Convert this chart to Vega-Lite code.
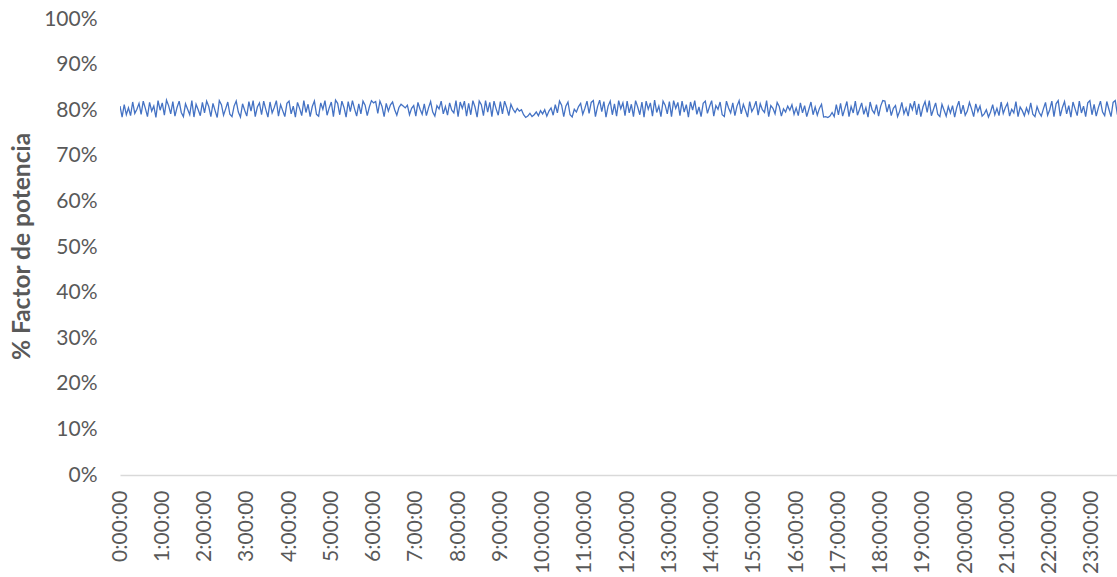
{
  "$schema": "https://vega.github.io/schema/vega-lite/v6.json",
  "autosize": {"type": "none"},
  "padding": {"left": 120, "top": 19, "right": 0, "bottom": 102},
  "width": 997,
  "height": 456,
  "background": "white",
  "config": {"view": {"stroke": null}, "font": "Lato"},
  "data": {"values": [
{"t":"2020-01-01T00:00","v":80.9},{"t":"2020-01-01T00:03","v":78.5},{"t":"2020-01-01T00:06","v":81.2},{"t":"2020-01-01T00:09","v":79.0},{"t":"2020-01-01T00:12","v":80.5},{"t":"2020-01-01T00:15","v":78.8},{"t":"2020-01-01T00:18","v":81.8},{"t":"2020-01-01T00:21","v":79.3},{"t":"2020-01-01T00:24","v":80.2},{"t":"2020-01-01T00:27","v":81.5},{"t":"2020-01-01T00:30","v":79.1},{"t":"2020-01-01T00:33","v":82.0},{"t":"2020-01-01T00:36","v":80.4},{"t":"2020-01-01T00:39","v":78.6},{"t":"2020-01-01T00:42","v":81.7},{"t":"2020-01-01T00:45","v":79.8},{"t":"2020-01-01T00:48","v":80.9},{"t":"2020-01-01T00:51","v":78.4},{"t":"2020-01-01T00:54","v":82.1},{"t":"2020-01-01T00:57","v":80.0},
{"t":"2020-01-01T01:00","v":81.6},{"t":"2020-01-01T01:03","v":78.9},{"t":"2020-01-01T01:06","v":82.2},{"t":"2020-01-01T01:09","v":81.0},{"t":"2020-01-01T01:12","v":79.2},{"t":"2020-01-01T01:15","v":81.9},{"t":"2020-01-01T01:18","v":78.7},{"t":"2020-01-01T01:21","v":80.6},{"t":"2020-01-01T01:24","v":82.0},{"t":"2020-01-01T01:27","v":79.5},{"t":"2020-01-01T01:30","v":78.6},{"t":"2020-01-01T01:33","v":81.4},{"t":"2020-01-01T01:36","v":80.2},{"t":"2020-01-01T01:39","v":79.0},{"t":"2020-01-01T01:42","v":82.1},{"t":"2020-01-01T01:45","v":78.5},{"t":"2020-01-01T01:48","v":81.3},{"t":"2020-01-01T01:51","v":80.1},{"t":"2020-01-01T01:54","v":78.8},{"t":"2020-01-01T01:57","v":81.7},
{"t":"2020-01-01T02:00","v":79.4},{"t":"2020-01-01T02:03","v":82.0},{"t":"2020-01-01T02:06","v":80.8},{"t":"2020-01-01T02:09","v":78.6},{"t":"2020-01-01T02:12","v":81.5},{"t":"2020-01-01T02:15","v":79.9},{"t":"2020-01-01T02:18","v":78.4},{"t":"2020-01-01T02:21","v":82.1},{"t":"2020-01-01T02:24","v":81.2},{"t":"2020-01-01T02:27","v":78.9},{"t":"2020-01-01T02:30","v":80.3},{"t":"2020-01-01T02:33","v":81.8},{"t":"2020-01-01T02:36","v":79.1},{"t":"2020-01-01T02:39","v":78.6},{"t":"2020-01-01T02:42","v":80.9},{"t":"2020-01-01T02:45","v":82.0},{"t":"2020-01-01T02:48","v":79.6},{"t":"2020-01-01T02:51","v":78.5},{"t":"2020-01-01T02:54","v":81.4},{"t":"2020-01-01T02:57","v":80.0},
{"t":"2020-01-01T03:00","v":78.7},{"t":"2020-01-01T03:03","v":81.9},{"t":"2020-01-01T03:06","v":79.8},{"t":"2020-01-01T03:09","v":82.1},{"t":"2020-01-01T03:12","v":78.6},{"t":"2020-01-01T03:15","v":80.7},{"t":"2020-01-01T03:18","v":81.6},{"t":"2020-01-01T03:21","v":79.0},{"t":"2020-01-01T03:24","v":82.0},{"t":"2020-01-01T03:27","v":80.2},{"t":"2020-01-01T03:30","v":78.5},{"t":"2020-01-01T03:33","v":81.8},{"t":"2020-01-01T03:36","v":79.4},{"t":"2020-01-01T03:39","v":80.6},{"t":"2020-01-01T03:42","v":82.1},{"t":"2020-01-01T03:45","v":78.7},{"t":"2020-01-01T03:48","v":81.2},{"t":"2020-01-01T03:51","v":79.9},{"t":"2020-01-01T03:54","v":78.6},{"t":"2020-01-01T03:57","v":81.5},
{"t":"2020-01-01T04:00","v":82.0},{"t":"2020-01-01T04:03","v":79.2},{"t":"2020-01-01T04:06","v":80.9},{"t":"2020-01-01T04:09","v":78.5},{"t":"2020-01-01T04:12","v":81.7},{"t":"2020-01-01T04:15","v":80.4},{"t":"2020-01-01T04:18","v":78.8},{"t":"2020-01-01T04:21","v":82.1},{"t":"2020-01-01T04:24","v":79.5},{"t":"2020-01-01T04:27","v":81.3},{"t":"2020-01-01T04:30","v":78.6},{"t":"2020-01-01T04:33","v":80.8},{"t":"2020-01-01T04:36","v":82.0},{"t":"2020-01-01T04:39","v":79.1},{"t":"2020-01-01T04:42","v":78.7},{"t":"2020-01-01T04:45","v":81.6},{"t":"2020-01-01T04:48","v":80.2},{"t":"2020-01-01T04:51","v":82.1},{"t":"2020-01-01T04:54","v":78.9},{"t":"2020-01-01T04:57","v":80.5},
{"t":"2020-01-01T05:00","v":81.8},{"t":"2020-01-01T05:03","v":78.6},{"t":"2020-01-01T05:06","v":82.2},{"t":"2020-01-01T05:09","v":81.5},{"t":"2020-01-01T05:12","v":79.0},{"t":"2020-01-01T05:15","v":82.0},{"t":"2020-01-01T05:18","v":80.6},{"t":"2020-01-01T05:21","v":78.5},{"t":"2020-01-01T05:24","v":81.9},{"t":"2020-01-01T05:27","v":79.7},{"t":"2020-01-01T05:30","v":82.1},{"t":"2020-01-01T05:33","v":80.3},{"t":"2020-01-01T05:36","v":78.7},{"t":"2020-01-01T05:39","v":81.4},{"t":"2020-01-01T05:42","v":79.2},{"t":"2020-01-01T05:45","v":82.0},{"t":"2020-01-01T05:48","v":81.1},{"t":"2020-01-01T05:51","v":78.8},{"t":"2020-01-01T05:54","v":80.7},{"t":"2020-01-01T05:57","v":82.1},
{"t":"2020-01-01T06:00","v":81.6},{"t":"2020-01-01T06:03","v":81.9},{"t":"2020-01-01T06:06","v":79.3},{"t":"2020-01-01T06:09","v":82.0},{"t":"2020-01-01T06:12","v":80.8},{"t":"2020-01-01T06:15","v":78.6},{"t":"2020-01-01T06:18","v":81.5},{"t":"2020-01-01T06:21","v":79.8},{"t":"2020-01-01T06:24","v":81.2},{"t":"2020-01-01T06:27","v":81.8},{"t":"2020-01-01T06:30","v":80.1},{"t":"2020-01-01T06:33","v":78.9},{"t":"2020-01-01T06:36","v":80.6},{"t":"2020-01-01T06:39","v":81.3},{"t":"2020-01-01T06:42","v":80.9},{"t":"2020-01-01T06:45","v":80.5},{"t":"2020-01-01T06:48","v":81.1},{"t":"2020-01-01T06:51","v":79.0},{"t":"2020-01-01T06:54","v":80.4},{"t":"2020-01-01T06:57","v":81.0},
{"t":"2020-01-01T07:00","v":78.7},{"t":"2020-01-01T07:03","v":81.7},{"t":"2020-01-01T07:06","v":80.2},{"t":"2020-01-01T07:09","v":79.1},{"t":"2020-01-01T07:12","v":81.4},{"t":"2020-01-01T07:15","v":78.8},{"t":"2020-01-01T07:18","v":80.5},{"t":"2020-01-01T07:21","v":81.9},{"t":"2020-01-01T07:24","v":79.6},{"t":"2020-01-01T07:27","v":78.7},{"t":"2020-01-01T07:30","v":81.0},{"t":"2020-01-01T07:33","v":80.3},{"t":"2020-01-01T07:36","v":82.0},{"t":"2020-01-01T07:39","v":79.2},{"t":"2020-01-01T07:42","v":80.8},{"t":"2020-01-01T07:45","v":78.9},{"t":"2020-01-01T07:48","v":81.6},{"t":"2020-01-01T07:51","v":80.0},{"t":"2020-01-01T07:54","v":79.4},{"t":"2020-01-01T07:57","v":82.1},
{"t":"2020-01-01T08:00","v":78.6},{"t":"2020-01-01T08:03","v":81.8},{"t":"2020-01-01T08:06","v":80.4},{"t":"2020-01-01T08:09","v":82.0},{"t":"2020-01-01T08:12","v":78.7},{"t":"2020-01-01T08:15","v":81.5},{"t":"2020-01-01T08:18","v":79.0},{"t":"2020-01-01T08:21","v":82.1},{"t":"2020-01-01T08:24","v":80.7},{"t":"2020-01-01T08:27","v":78.5},{"t":"2020-01-01T08:30","v":82.0},{"t":"2020-01-01T08:33","v":81.2},{"t":"2020-01-01T08:36","v":78.8},{"t":"2020-01-01T08:39","v":82.1},{"t":"2020-01-01T08:42","v":79.6},{"t":"2020-01-01T08:45","v":81.7},{"t":"2020-01-01T08:48","v":78.6},{"t":"2020-01-01T08:51","v":82.0},{"t":"2020-01-01T08:54","v":80.3},{"t":"2020-01-01T08:57","v":78.9},
{"t":"2020-01-01T09:00","v":81.9},{"t":"2020-01-01T09:03","v":79.2},{"t":"2020-01-01T09:06","v":82.0},{"t":"2020-01-01T09:09","v":80.6},{"t":"2020-01-01T09:12","v":78.8},{"t":"2020-01-01T09:15","v":81.3},{"t":"2020-01-01T09:18","v":80.2},{"t":"2020-01-01T09:21","v":79.5},{"t":"2020-01-01T09:24","v":80.4},{"t":"2020-01-01T09:27","v":79.8},{"t":"2020-01-01T09:30","v":80.1},{"t":"2020-01-01T09:33","v":79.0},{"t":"2020-01-01T09:36","v":78.4},{"t":"2020-01-01T09:39","v":78.7},{"t":"2020-01-01T09:42","v":79.3},{"t":"2020-01-01T09:45","v":78.6},{"t":"2020-01-01T09:48","v":79.0},{"t":"2020-01-01T09:51","v":79.6},{"t":"2020-01-01T09:54","v":78.8},{"t":"2020-01-01T09:57","v":79.9},
{"t":"2020-01-01T10:00","v":79.2},{"t":"2020-01-01T10:03","v":80.1},{"t":"2020-01-01T10:06","v":78.7},{"t":"2020-01-01T10:09","v":79.8},{"t":"2020-01-01T10:12","v":80.5},{"t":"2020-01-01T10:15","v":78.9},{"t":"2020-01-01T10:18","v":81.2},{"t":"2020-01-01T10:21","v":79.4},{"t":"2020-01-01T10:24","v":82.0},{"t":"2020-01-01T10:27","v":81.1},{"t":"2020-01-01T10:30","v":78.6},{"t":"2020-01-01T10:33","v":80.9},{"t":"2020-01-01T10:36","v":81.8},{"t":"2020-01-01T10:39","v":79.0},{"t":"2020-01-01T10:42","v":78.5},{"t":"2020-01-01T10:45","v":80.2},{"t":"2020-01-01T10:48","v":79.6},{"t":"2020-01-01T10:51","v":80.8},{"t":"2020-01-01T10:54","v":81.5},{"t":"2020-01-01T10:57","v":79.1},
{"t":"2020-01-01T11:00","v":80.4},{"t":"2020-01-01T11:03","v":82.0},{"t":"2020-01-01T11:06","v":79.3},{"t":"2020-01-01T11:09","v":81.7},{"t":"2020-01-01T11:12","v":82.1},{"t":"2020-01-01T11:15","v":78.6},{"t":"2020-01-01T11:18","v":80.8},{"t":"2020-01-01T11:21","v":82.2},{"t":"2020-01-01T11:24","v":79.7},{"t":"2020-01-01T11:27","v":81.9},{"t":"2020-01-01T11:30","v":78.5},{"t":"2020-01-01T11:33","v":80.9},{"t":"2020-01-01T11:36","v":82.0},{"t":"2020-01-01T11:39","v":79.0},{"t":"2020-01-01T11:42","v":81.4},{"t":"2020-01-01T11:45","v":78.7},{"t":"2020-01-01T11:48","v":82.1},{"t":"2020-01-01T11:51","v":80.3},{"t":"2020-01-01T11:54","v":81.6},{"t":"2020-01-01T11:57","v":78.8},
{"t":"2020-01-01T12:00","v":82.0},{"t":"2020-01-01T12:03","v":79.4},{"t":"2020-01-01T12:06","v":81.3},{"t":"2020-01-01T12:09","v":78.6},{"t":"2020-01-01T12:12","v":82.1},{"t":"2020-01-01T12:15","v":80.7},{"t":"2020-01-01T12:18","v":79.0},{"t":"2020-01-01T12:21","v":81.8},{"t":"2020-01-01T12:24","v":78.5},{"t":"2020-01-01T12:27","v":82.0},{"t":"2020-01-01T12:30","v":80.2},{"t":"2020-01-01T12:33","v":81.6},{"t":"2020-01-01T12:36","v":78.7},{"t":"2020-01-01T12:39","v":82.2},{"t":"2020-01-01T12:42","v":79.5},{"t":"2020-01-01T12:45","v":80.9},{"t":"2020-01-01T12:48","v":78.6},{"t":"2020-01-01T12:51","v":82.0},{"t":"2020-01-01T12:54","v":81.1},{"t":"2020-01-01T12:57","v":79.2},
{"t":"2020-01-01T13:00","v":81.9},{"t":"2020-01-01T13:03","v":78.6},{"t":"2020-01-01T13:06","v":82.1},{"t":"2020-01-01T13:09","v":80.4},{"t":"2020-01-01T13:12","v":81.7},{"t":"2020-01-01T13:15","v":78.8},{"t":"2020-01-01T13:18","v":82.0},{"t":"2020-01-01T13:21","v":79.6},{"t":"2020-01-01T13:24","v":81.2},{"t":"2020-01-01T13:27","v":78.5},{"t":"2020-01-01T13:30","v":81.8},{"t":"2020-01-01T13:33","v":80.0},{"t":"2020-01-01T13:36","v":82.1},{"t":"2020-01-01T13:39","v":79.1},{"t":"2020-01-01T13:42","v":80.7},{"t":"2020-01-01T13:45","v":78.6},{"t":"2020-01-01T13:48","v":81.5},{"t":"2020-01-01T13:51","v":82.0},{"t":"2020-01-01T13:54","v":79.3},{"t":"2020-01-01T13:57","v":80.8},
{"t":"2020-01-01T14:00","v":82.1},{"t":"2020-01-01T14:03","v":78.7},{"t":"2020-01-01T14:06","v":81.0},{"t":"2020-01-01T14:09","v":80.2},{"t":"2020-01-01T14:12","v":81.8},{"t":"2020-01-01T14:15","v":79.0},{"t":"2020-01-01T14:18","v":78.6},{"t":"2020-01-01T14:21","v":82.0},{"t":"2020-01-01T14:24","v":80.5},{"t":"2020-01-01T14:27","v":79.4},{"t":"2020-01-01T14:30","v":81.6},{"t":"2020-01-01T14:33","v":78.8},{"t":"2020-01-01T14:36","v":80.9},{"t":"2020-01-01T14:39","v":82.1},{"t":"2020-01-01T14:42","v":79.2},{"t":"2020-01-01T14:45","v":81.3},{"t":"2020-01-01T14:48","v":80.0},{"t":"2020-01-01T14:51","v":78.5},{"t":"2020-01-01T14:54","v":81.9},{"t":"2020-01-01T14:57","v":79.7},
{"t":"2020-01-01T15:00","v":80.6},{"t":"2020-01-01T15:03","v":82.0},{"t":"2020-01-01T15:06","v":78.9},{"t":"2020-01-01T15:09","v":81.4},{"t":"2020-01-01T15:12","v":80.1},{"t":"2020-01-01T15:15","v":79.5},{"t":"2020-01-01T15:18","v":82.1},{"t":"2020-01-01T15:21","v":78.6},{"t":"2020-01-01T15:24","v":81.0},{"t":"2020-01-01T15:27","v":80.4},{"t":"2020-01-01T15:30","v":79.2},{"t":"2020-01-01T15:33","v":81.7},{"t":"2020-01-01T15:36","v":80.8},{"t":"2020-01-01T15:39","v":78.7},{"t":"2020-01-01T15:42","v":80.3},{"t":"2020-01-01T15:45","v":79.6},{"t":"2020-01-01T15:48","v":80.9},{"t":"2020-01-01T15:51","v":80.0},{"t":"2020-01-01T15:54","v":81.2},{"t":"2020-01-01T15:57","v":79.1},
{"t":"2020-01-01T16:00","v":80.5},{"t":"2020-01-01T16:03","v":78.8},{"t":"2020-01-01T16:06","v":81.6},{"t":"2020-01-01T16:09","v":79.4},{"t":"2020-01-01T16:12","v":81.0},{"t":"2020-01-01T16:15","v":78.6},{"t":"2020-01-01T16:18","v":80.2},{"t":"2020-01-01T16:21","v":81.8},{"t":"2020-01-01T16:24","v":79.0},{"t":"2020-01-01T16:27","v":80.7},{"t":"2020-01-01T16:30","v":78.9},{"t":"2020-01-01T16:33","v":80.4},{"t":"2020-01-01T16:36","v":81.3},{"t":"2020-01-01T16:39","v":78.5},{"t":"2020-01-01T16:42","v":78.6},{"t":"2020-01-01T16:45","v":78.4},{"t":"2020-01-01T16:48","v":78.7},{"t":"2020-01-01T16:51","v":79.5},{"t":"2020-01-01T16:54","v":78.6},{"t":"2020-01-01T16:57","v":81.2},
{"t":"2020-01-01T17:00","v":79.0},{"t":"2020-01-01T17:03","v":81.5},{"t":"2020-01-01T17:06","v":78.7},{"t":"2020-01-01T17:09","v":80.3},{"t":"2020-01-01T17:12","v":81.9},{"t":"2020-01-01T17:15","v":78.6},{"t":"2020-01-01T17:18","v":80.8},{"t":"2020-01-01T17:21","v":79.4},{"t":"2020-01-01T17:24","v":82.0},{"t":"2020-01-01T17:27","v":78.9},{"t":"2020-01-01T17:30","v":80.2},{"t":"2020-01-01T17:33","v":81.6},{"t":"2020-01-01T17:36","v":79.1},{"t":"2020-01-01T17:39","v":80.6},{"t":"2020-01-01T17:42","v":78.5},{"t":"2020-01-01T17:45","v":81.8},{"t":"2020-01-01T17:48","v":80.0},{"t":"2020-01-01T17:51","v":79.3},{"t":"2020-01-01T17:54","v":81.2},{"t":"2020-01-01T17:57","v":78.7},
{"t":"2020-01-01T18:00","v":80.9},{"t":"2020-01-01T18:03","v":82.1},{"t":"2020-01-01T18:06","v":82.0},{"t":"2020-01-01T18:09","v":79.6},{"t":"2020-01-01T18:12","v":81.3},{"t":"2020-01-01T18:15","v":78.8},{"t":"2020-01-01T18:18","v":80.4},{"t":"2020-01-01T18:21","v":81.0},{"t":"2020-01-01T18:24","v":78.6},{"t":"2020-01-01T18:27","v":79.8},{"t":"2020-01-01T18:30","v":81.7},{"t":"2020-01-01T18:33","v":79.2},{"t":"2020-01-01T18:36","v":80.5},{"t":"2020-01-01T18:39","v":78.7},{"t":"2020-01-01T18:42","v":81.5},{"t":"2020-01-01T18:45","v":80.1},{"t":"2020-01-01T18:48","v":82.0},{"t":"2020-01-01T18:51","v":79.0},{"t":"2020-01-01T18:54","v":81.4},{"t":"2020-01-01T18:57","v":78.6},
{"t":"2020-01-01T19:00","v":80.7},{"t":"2020-01-01T19:03","v":81.9},{"t":"2020-01-01T19:06","v":79.5},{"t":"2020-01-01T19:09","v":82.1},{"t":"2020-01-01T19:12","v":78.8},{"t":"2020-01-01T19:15","v":80.2},{"t":"2020-01-01T19:18","v":81.6},{"t":"2020-01-01T19:21","v":79.1},{"t":"2020-01-01T19:24","v":78.6},{"t":"2020-01-01T19:27","v":81.3},{"t":"2020-01-01T19:30","v":80.0},{"t":"2020-01-01T19:33","v":78.7},{"t":"2020-01-01T19:36","v":80.8},{"t":"2020-01-01T19:39","v":79.4},{"t":"2020-01-01T19:42","v":81.0},{"t":"2020-01-01T19:45","v":78.5},{"t":"2020-01-01T19:48","v":80.6},{"t":"2020-01-01T19:51","v":82.0},{"t":"2020-01-01T19:54","v":79.2},{"t":"2020-01-01T19:57","v":81.1},
{"t":"2020-01-01T20:00","v":78.9},{"t":"2020-01-01T20:03","v":79.8},{"t":"2020-01-01T20:06","v":81.7},{"t":"2020-01-01T20:09","v":80.3},{"t":"2020-01-01T20:12","v":78.6},{"t":"2020-01-01T20:15","v":81.4},{"t":"2020-01-01T20:18","v":79.7},{"t":"2020-01-01T20:21","v":80.9},{"t":"2020-01-01T20:24","v":78.7},{"t":"2020-01-01T20:27","v":79.2},{"t":"2020-01-01T20:30","v":80.1},{"t":"2020-01-01T20:33","v":78.5},{"t":"2020-01-01T20:36","v":79.6},{"t":"2020-01-01T20:39","v":81.2},{"t":"2020-01-01T20:42","v":79.0},{"t":"2020-01-01T20:45","v":80.4},{"t":"2020-01-01T20:48","v":78.8},{"t":"2020-01-01T20:51","v":81.8},{"t":"2020-01-01T20:54","v":79.3},{"t":"2020-01-01T20:57","v":80.6},
{"t":"2020-01-01T21:00","v":81.5},{"t":"2020-01-01T21:03","v":78.7},{"t":"2020-01-01T21:06","v":80.2},{"t":"2020-01-01T21:09","v":79.4},{"t":"2020-01-01T21:12","v":81.9},{"t":"2020-01-01T21:15","v":78.6},{"t":"2020-01-01T21:18","v":80.7},{"t":"2020-01-01T21:21","v":79.9},{"t":"2020-01-01T21:24","v":78.8},{"t":"2020-01-01T21:27","v":80.5},{"t":"2020-01-01T21:30","v":79.3},{"t":"2020-01-01T21:33","v":81.6},{"t":"2020-01-01T21:36","v":79.1},{"t":"2020-01-01T21:39","v":78.6},{"t":"2020-01-01T21:42","v":80.8},{"t":"2020-01-01T21:45","v":79.5},{"t":"2020-01-01T21:48","v":78.7},{"t":"2020-01-01T21:51","v":80.3},{"t":"2020-01-01T21:54","v":81.7},{"t":"2020-01-01T21:57","v":78.9},
{"t":"2020-01-01T22:00","v":80.1},{"t":"2020-01-01T22:03","v":82.0},{"t":"2020-01-01T22:06","v":78.6},{"t":"2020-01-01T22:09","v":81.4},{"t":"2020-01-01T22:12","v":82.1},{"t":"2020-01-01T22:15","v":78.7},{"t":"2020-01-01T22:18","v":80.6},{"t":"2020-01-01T22:21","v":81.9},{"t":"2020-01-01T22:24","v":79.2},{"t":"2020-01-01T22:27","v":81.0},{"t":"2020-01-01T22:30","v":78.5},{"t":"2020-01-01T22:33","v":81.8},{"t":"2020-01-01T22:36","v":80.3},{"t":"2020-01-01T22:39","v":78.8},{"t":"2020-01-01T22:42","v":82.0},{"t":"2020-01-01T22:45","v":79.4},{"t":"2020-01-01T22:48","v":80.9},{"t":"2020-01-01T22:51","v":78.6},{"t":"2020-01-01T22:54","v":81.6},{"t":"2020-01-01T22:57","v":82.1},
{"t":"2020-01-01T23:00","v":79.0},{"t":"2020-01-01T23:03","v":81.3},{"t":"2020-01-01T23:06","v":78.7},{"t":"2020-01-01T23:09","v":80.5},{"t":"2020-01-01T23:12","v":82.0},{"t":"2020-01-01T23:15","v":79.6},{"t":"2020-01-01T23:18","v":78.8},{"t":"2020-01-01T23:21","v":81.9},{"t":"2020-01-01T23:24","v":80.2},{"t":"2020-01-01T23:27","v":78.6},{"t":"2020-01-01T23:30","v":81.7},{"t":"2020-01-01T23:33","v":82.1},{"t":"2020-01-01T23:36","v":79.1},{"t":"2020-01-01T23:39","v":78.9},{"t":"2020-01-01T23:42","v":80.4},{"t":"2020-01-01T23:45","v":82.0},{"t":"2020-01-01T23:48","v":81.8},{"t":"2020-01-01T23:51","v":78.7},{"t":"2020-01-01T23:54","v":80.0},{"t":"2020-01-01T23:57","v":81.5}
  ]},
  "mark": {"type": "line", "color": "#4472C4", "strokeWidth": 1.3, "clip": true},
  "encoding": {
    "x": {
      "field": "t", "type": "temporal",
      "scale": {"domain": [
        {"year": 2020, "month": 1, "date": 1, "hours": 0, "minutes": 0},
        {"year": 2020, "month": 1, "date": 1, "hours": 23, "minutes": 35, "seconds": 30}
      ]},
      "axis": {
        "title": null,
        "format": "%-H:%M:%S",
        "values": [
          {"year": 2020, "month": 1, "date": 1, "hours": 0},
          {"year": 2020, "month": 1, "date": 1, "hours": 1},
          {"year": 2020, "month": 1, "date": 1, "hours": 2},
          {"year": 2020, "month": 1, "date": 1, "hours": 3},
          {"year": 2020, "month": 1, "date": 1, "hours": 4},
          {"year": 2020, "month": 1, "date": 1, "hours": 5},
          {"year": 2020, "month": 1, "date": 1, "hours": 6},
          {"year": 2020, "month": 1, "date": 1, "hours": 7},
          {"year": 2020, "month": 1, "date": 1, "hours": 8},
          {"year": 2020, "month": 1, "date": 1, "hours": 9},
          {"year": 2020, "month": 1, "date": 1, "hours": 10},
          {"year": 2020, "month": 1, "date": 1, "hours": 11},
          {"year": 2020, "month": 1, "date": 1, "hours": 12},
          {"year": 2020, "month": 1, "date": 1, "hours": 13},
          {"year": 2020, "month": 1, "date": 1, "hours": 14},
          {"year": 2020, "month": 1, "date": 1, "hours": 15},
          {"year": 2020, "month": 1, "date": 1, "hours": 16},
          {"year": 2020, "month": 1, "date": 1, "hours": 17},
          {"year": 2020, "month": 1, "date": 1, "hours": 18},
          {"year": 2020, "month": 1, "date": 1, "hours": 19},
          {"year": 2020, "month": 1, "date": 1, "hours": 20},
          {"year": 2020, "month": 1, "date": 1, "hours": 21},
          {"year": 2020, "month": 1, "date": 1, "hours": 22},
          {"year": 2020, "month": 1, "date": 1, "hours": 23}
        ],
        "labelAngle": 270,
        "labelAlign": "right",
        "labelBaseline": "middle",
        "labelFontSize": 21,
        "labelColor": "#595959",
        "labelPadding": 15,
        "labelOverlap": false,
        "labelFlush": false,
        "ticks": false,
        "grid": false,
        "domainColor": "#D9D9D9",
        "domainWidth": 1.3
      }
    },
    "y": {
      "field": "v", "type": "quantitative",
      "scale": {"domain": [0, 100], "nice": false},
      "axis": {
        "title": "% Factor de potencia",
        "titleFontSize": 24.5,
        "titleFontWeight": "bold",
        "titleColor": "#595959",
        "titleX": -98,
        "titleY": 227,
        "titleAlign": "center",
        "titleBaseline": "middle",
        "titleAngle": 270,
        "values": [0, 10, 20, 30, 40, 50, 60, 70, 80, 90, 100],
        "labelExpr": "datum.value + '%'",
        "labelFontSize": 21,
        "labelColor": "#595959",
        "labelPadding": 23,
        "ticks": false,
        "domain": false,
        "grid": false
      }
    }
  }
}
